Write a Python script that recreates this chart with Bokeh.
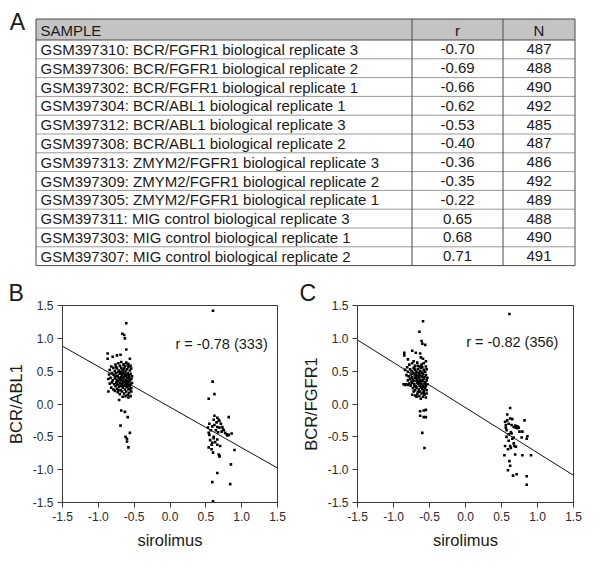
from bokeh.plotting import figure
from bokeh.layouts import column, row
from bokeh.models import Range1d, FixedTicker, NumeralTickFormatter, ColumnDataSource
from bokeh.core.properties import value
from bokeh.embed import file_html
from bokeh.resources import INLINE

FONT = "Liberation Sans"

# ---------------- Table data (panel A) ----------------
samples = [
    "GSM397310: BCR/FGFR1 biological replicate 3",
    "GSM397306: BCR/FGFR1 biological replicate 2",
    "GSM397302: BCR/FGFR1 biological replicate 1",
    "GSM397304: BCR/ABL1 biological replicate 1",
    "GSM397312: BCR/ABL1 biological replicate 3",
    "GSM397308: BCR/ABL1 biological replicate 2",
    "GSM397313: ZMYM2/FGFR1 biological replicate 3",
    "GSM397309: ZMYM2/FGFR1 biological replicate 2",
    "GSM397305: ZMYM2/FGFR1 biological replicate 1",
    "GSM397311: MIG control biological replicate 3",
    "GSM397303: MIG control biological replicate 1",
    "GSM397307: MIG control biological replicate 2",
]
r_values = [-0.70, -0.69, -0.66, -0.62, -0.53, -0.40, -0.36, -0.35, -0.22, 0.65, 0.68, 0.71]
n_values = [487, 488, 490, 492, 485, 487, 486, 492, 489, 488, 490, 491]

# ---------------- Scatter data (panel B: BCR/ABL1 vs sirolimus) ----------------
b_left_outliers = [
    (-0.61, 1.23), (-0.665, 1.07), (-0.64, 1.05), (-0.63, 1.00), (-0.61, 0.83),
    (-0.87, 0.77), (-0.80, 0.72), (-0.74, 0.74), (-0.69, 0.75), (-0.56, 0.69), (-0.87, 0.69),
    (-0.71, 0.06), (-0.68, -0.10), (-0.63, -0.12), (-0.59, -0.20), (-0.69, -0.33),
    (-0.56, -0.44), (-0.62, -0.50), (-0.60, -0.53), (-0.60, -0.57), (-0.58, -0.66),
]
b_left_core = [
    (-0.72, 0.62), (-0.68, 0.64), (-0.65, 0.60), (-0.61, 0.63), (-0.58, 0.61), (-0.76, 0.60),
    (-0.70, 0.58), (-0.63, 0.57), (-0.55, 0.58), (-0.82, 0.57),
    (-0.84, 0.52), (-0.79, 0.55), (-0.74, 0.54), (-0.71, 0.51), (-0.68, 0.55), (-0.66, 0.52),
    (-0.64, 0.54), (-0.62, 0.50), (-0.60, 0.53), (-0.58, 0.56), (-0.56, 0.51), (-0.54, 0.54),
    (-0.77, 0.50), (-0.69, 0.49), (-0.65, 0.48),
    (-0.85, 0.45), (-0.81, 0.47), (-0.78, 0.44), (-0.75, 0.47), (-0.73, 0.43), (-0.70, 0.46),
    (-0.67, 0.44), (-0.63, 0.46), (-0.61, 0.43), (-0.59, 0.47), (-0.57, 0.44), (-0.55, 0.46),
    (-0.53, 0.42), (-0.72, 0.49), (-0.64, 0.41), (-0.60, 0.40),
    (-0.86, 0.38), (-0.83, 0.40), (-0.80, 0.36), (-0.77, 0.39), (-0.74, 0.37), (-0.71, 0.40),
    (-0.69, 0.36), (-0.66, 0.39), (-0.62, 0.37), (-0.58, 0.39), (-0.56, 0.36), (-0.54, 0.38),
    (-0.76, 0.42), (-0.68, 0.41), (-0.65, 0.35), (-0.60, 0.35), (-0.57, 0.41),
    (-0.84, 0.31), (-0.81, 0.33), (-0.78, 0.30), (-0.75, 0.33), (-0.72, 0.29), (-0.70, 0.32),
    (-0.67, 0.30), (-0.64, 0.33), (-0.62, 0.29), (-0.59, 0.31), (-0.57, 0.34), (-0.55, 0.30),
    (-0.53, 0.32), (-0.73, 0.35), (-0.66, 0.34), (-0.61, 0.32), (-0.58, 0.28),
    (-0.82, 0.25), (-0.79, 0.22), (-0.76, 0.27), (-0.74, 0.23), (-0.71, 0.26), (-0.69, 0.21),
    (-0.66, 0.25), (-0.63, 0.22), (-0.60, 0.26), (-0.58, 0.23), (-0.56, 0.27), (-0.54, 0.24),
    (-0.68, 0.28), (-0.62, 0.27), (-0.77, 0.20),
    (-0.86, 0.19), (-0.73, 0.18), (-0.70, 0.15), (-0.67, 0.19), (-0.64, 0.16), (-0.61, 0.19),
    (-0.59, 0.14), (-0.57, 0.17), (-0.55, 0.12), (-0.54, 0.19), (-0.62, 0.12), (-0.66, 0.11),
    (-0.58, 0.10),
    (-0.63, 0.44), (-0.65, 0.28), (-0.70, 0.38), (-0.60, 0.45), (-0.67, 0.47), (-0.74, 0.31),
    (-0.56, 0.22), (-0.79, 0.45), (-0.72, 0.21), (-0.64, 0.60), (-0.59, 0.59), (-0.75, 0.56),
]
b_right_cluster = [
    (0.60, 1.42), (0.595, 0.34), (0.62, 0.15), (0.54, 0.08), (0.62, -0.18), (0.66, -0.21),
    (0.68, -0.24), (0.61, -0.24), (0.69, -0.26), (0.71, -0.30), (0.73, -0.35), (0.69, -0.36),
    (0.66, -0.35), (0.62, -0.32), (0.59, -0.34), (0.55, -0.30), (0.53, -0.36), (0.75, -0.40),
    (0.77, -0.44), (0.82, -0.20), (0.82, -0.47), (0.86, -0.45), (0.79, -0.46), (0.54, -0.44),
    (0.55, -0.47), (0.61, -0.52), (0.66, -0.54), (0.59, -0.59), (0.63, -0.58), (0.66, -0.62),
    (0.54, -0.66), (0.58, -0.69), (0.60, -0.74), (0.68, -0.77), (0.69, -0.79), (0.90, -0.70),
    (0.85, -0.92), (0.66, -1.05), (0.59, -1.19), (0.84, -1.22), (0.60, -1.48),
    (0.57, -0.40), (0.64, -0.40), (0.72, -0.42), (0.67, -0.43), (0.61, -0.50), (0.70, -0.64),
    (0.56, -0.55), (0.65, -0.28), (0.74, -0.38), (0.80, -0.48), (0.58, -0.62), (0.69, -0.80),
]
b_fit_x = [-1.5, 1.5]
b_fit_y = [0.88, -0.975]
b_note = "r = -0.78 (333)"

# ---------------- Scatter data (panel C: BCR/FGFR1 vs sirolimus) ----------------
c_left_outliers = [
    (-0.59, 1.26), (-0.64, 1.10), (-0.61, 0.96), (-0.60, 0.92), (-0.56, 0.90), (-0.74, 0.81),
    (-0.69, 0.78), (-0.63, 0.77), (-0.85, 0.78), (-0.85, 0.74), (-0.62, 0.71), (-0.59, 0.69),
    (-0.72, 0.65), (-0.55, 0.65), (-0.80, 0.68),
    (-0.58, -0.10), (-0.63, -0.11), (-0.55, -0.09), (-0.63, -0.18), (-0.58, -0.20),
    (-0.55, -0.20), (-0.60, -0.44), (-0.57, -0.67),
]
c_left_core = [
    (-0.78, 0.60), (-0.74, 0.62), (-0.70, 0.58), (-0.67, 0.63), (-0.64, 0.57), (-0.61, 0.60),
    (-0.58, 0.62), (-0.55, 0.57), (-0.81, 0.56), (-0.72, 0.55), (-0.62, 0.55),
    (-0.84, 0.52), (-0.80, 0.49), (-0.77, 0.53), (-0.75, 0.50), (-0.73, 0.48), (-0.70, 0.52),
    (-0.68, 0.49), (-0.66, 0.53), (-0.63, 0.50), (-0.60, 0.48), (-0.58, 0.52), (-0.56, 0.49),
    (-0.54, 0.53), (-0.65, 0.47), (-0.71, 0.54),
    (-0.82, 0.44), (-0.79, 0.42), (-0.76, 0.45), (-0.74, 0.41), (-0.72, 0.46), (-0.69, 0.43),
    (-0.67, 0.40), (-0.64, 0.45), (-0.62, 0.42), (-0.59, 0.46), (-0.57, 0.41), (-0.55, 0.44),
    (-0.53, 0.40), (-0.70, 0.40), (-0.61, 0.47), (-0.66, 0.43),
    (-0.80, 0.36), (-0.77, 0.38), (-0.75, 0.34), (-0.73, 0.37), (-0.71, 0.35), (-0.68, 0.38),
    (-0.65, 0.34), (-0.63, 0.37), (-0.60, 0.35), (-0.58, 0.39), (-0.56, 0.33), (-0.54, 0.36),
    (-0.62, 0.33), (-0.67, 0.36), (-0.59, 0.37),
    (-0.86, 0.30), (-0.84, 0.29), (-0.82, 0.30), (-0.80, 0.29), (-0.78, 0.31), (-0.76, 0.28),
    (-0.74, 0.32), (-0.71, 0.30), (-0.69, 0.27), (-0.66, 0.31), (-0.64, 0.28), (-0.61, 0.30),
    (-0.59, 0.27), (-0.57, 0.31), (-0.55, 0.28), (-0.53, 0.30), (-0.67, 0.33), (-0.62, 0.26),
    (-0.73, 0.24), (-0.70, 0.21), (-0.68, 0.25), (-0.65, 0.22), (-0.63, 0.19), (-0.60, 0.23),
    (-0.58, 0.20), (-0.56, 0.24), (-0.54, 0.21), (-0.66, 0.18), (-0.61, 0.25), (-0.72, 0.19),
    (-0.74, 0.14), (-0.70, 0.13), (-0.67, 0.15), (-0.64, 0.12), (-0.61, 0.16), (-0.59, 0.11),
    (-0.57, 0.14), (-0.55, 0.10), (-0.54, 0.16), (-0.62, 0.08), (-0.58, 0.17), (-0.68, 0.11),
    (-0.65, 0.40), (-0.60, 0.42), (-0.63, 0.32), (-0.69, 0.46), (-0.57, 0.26), (-0.71, 0.27),
    (-0.60, 0.56), (-0.66, 0.58), (-0.75, 0.40),
]
c_right_cluster = [
    (0.61, 1.37), (0.62, -0.06), (0.58, -0.16), (0.62, -0.22), (0.65, -0.23), (0.67, -0.35),
    (0.70, -0.36), (0.72, -0.37), (0.82, -0.25), (0.55, -0.27), (0.56, -0.32), (0.57, -0.40),
    (0.60, -0.46), (0.64, -0.45), (0.65, -0.53), (0.67, -0.51), (0.79, -0.42), (0.78, -0.51),
    (0.86, -0.49), (0.85, -0.53), (0.55, -0.64), (0.59, -0.69), (0.63, -0.67), (0.67, -0.60),
    (0.69, -0.77), (0.79, -0.78), (0.91, -0.78), (0.54, -0.78), (0.61, -0.87), (0.59, -1.01),
    (0.62, -0.94), (0.66, -1.09), (0.71, -1.07), (0.85, -1.10), (0.85, -1.23),
    (0.58, -0.25), (0.60, -0.30), (0.64, -0.32), (0.69, -0.33), (0.72, -0.34), (0.74, -0.36),
    (0.57, -0.50), (0.60, -0.56), (0.62, -0.64), (0.68, -0.64), (0.70, -0.65), (0.75, -0.42),
    (0.56, -0.36), (0.63, -0.43),
]
c_fit_x = [-1.5, 1.5]
c_fit_y = [0.975, -1.086]
c_note = "r = -0.82 (356)"

axis_ticks = [-1.5, -1.0, -0.5, 0.0, 0.5, 1.0, 1.5]

TEXT = "#1a1a1a"
AXC = "#3a3a3a"

# ---------------- Panel A: table ----------------
PAGE_W = 600
TAB_H = 275
t = figure(width=PAGE_W, height=TAB_H, x_range=Range1d(0, PAGE_W), y_range=Range1d(TAB_H, 0),
           output_backend="svg", toolbar_location=None, min_border=0)
t.axis.visible = False
t.grid.visible = False
t.outline_line_color = None

tab_left, tab_right, tab_top, head_bot = 35.5, 574.5, 18.5, 39.5
col_r, col_n = 411.5, 502.5
row_h = 18.8
n_rows = len(samples)
tab_bot = head_bot + row_h * n_rows

t.quad(left=[tab_left], right=[tab_right], top=[tab_top], bottom=[head_bot],
       fill_color="#c4c4c4", line_color=None)
row_lines_y = [head_bot + row_h * (k + 1) for k in range(n_rows - 1)]
t.segment(x0=[tab_left] * len(row_lines_y), x1=[tab_right] * len(row_lines_y),
          y0=row_lines_y, y1=row_lines_y, line_color="#9a9a9a", line_width=1)
t.segment(x0=[tab_left], x1=[tab_right], y0=[head_bot], y1=[head_bot], line_color="#4a4a4a", line_width=1)
t.segment(x0=[col_r, col_n], x1=[col_r, col_n], y0=[tab_top, tab_top], y1=[tab_bot, tab_bot],
          line_color="#4a4a4a", line_width=1)
t.quad(left=[tab_left], right=[tab_right], top=[tab_top], bottom=[tab_bot],
       fill_color=None, line_color="#4a4a4a", line_width=1)

row_centers = [head_bot + row_h * (k + 0.5) for k in range(n_rows)]
tsrc = ColumnDataSource(dict(
    y=row_centers,
    sample=samples,
    r=["%.2f" % v for v in r_values],
    n=[str(v) for v in n_values],
    xs=[40] * n_rows,
    xr=[(col_r + col_n) / 2] * n_rows,
    xn=[(col_n + tab_right) / 2] * n_rows,
))
common = dict(text_font=value(FONT), text_font_size="15px", text_color=TEXT, text_baseline="middle")
t.text(x="xs", y="y", text="sample", source=tsrc, text_align="left", **common)
t.text(x="xr", y="y", text="r", source=tsrc, text_align="center", **common)
t.text(x="xn", y="y", text="n", source=tsrc, text_align="center", **common)
head_y = (tab_top + head_bot) / 2 + 1
t.text(x=[40], y=[head_y], text=["SAMPLE"], text_align="left", **common)
t.text(x=[(col_r + col_n) / 2], y=[head_y], text=["r"], text_align="center", **common)
t.text(x=[(col_n + tab_right) / 2], y=[head_y], text=["N"], text_align="center", **common)
t.text(x=[17], y=[21], text=["A"], text_align="center", text_baseline="middle",
       text_font=value(FONT), text_font_size="23px", text_color=TEXT)


# ---------------- Panels B and C ----------------
def scatter_panel(letter, ylabel, left, core, right, fit_x, fit_y, note, note_x, note_y,
                  width, bl, br, bt, bb, letter_dx):
    p = figure(width=width, height=302, x_range=Range1d(-1.5, 1.5), y_range=Range1d(-1.5, 1.5),
               output_backend="svg", toolbar_location=None,
               min_border_left=bl, min_border_right=br, min_border_top=bt, min_border_bottom=bb)
    p.grid.visible = False
    p.outline_line_color = AXC
    p.outline_line_width = 1
    for ax in (p.xaxis[0], p.yaxis[0]):
        ax.ticker = FixedTicker(ticks=axis_ticks)
        ax.formatter = NumeralTickFormatter(format="0.0")
        ax.minor_tick_line_color = None
        ax.major_tick_in = 0
        ax.major_tick_out = 5
        ax.axis_line_color = AXC
        ax.major_tick_line_color = AXC
        ax.major_label_text_font = FONT
        ax.major_label_text_font_size = "12px"
        ax.major_label_text_color = "#2a2a2a"
        ax.axis_label_text_font = FONT
        ax.axis_label_text_font_size = "16.5px"
        ax.axis_label_text_font_style = "normal"
        ax.axis_label_text_color = TEXT
        ax.major_label_standoff = 4
    p.xaxis.axis_label = "sirolimus"
    p.xaxis.axis_label_standoff = 7
    p.yaxis.axis_label = ylabel
    p.yaxis.axis_label_standoff = 5

    p.title.text = letter
    p.title_location = "above"
    p.title.align = "left"
    p.title.offset = letter_dx
    p.title.standoff = 0
    p.title.text_font = FONT
    p.title.text_font_size = "23px"
    p.title.text_font_style = "normal"
    p.title.text_color = TEXT

    pts = left + core + right
    p.scatter([q[0] for q in pts], [q[1] for q in pts], marker="square", size=2.6,
              fill_color="black", line_color="black", line_width=0)
    p.line(fit_x, fit_y, line_color="#111111", line_width=1)
    p.text(x=[note_x], y=[note_y], text=[note], text_align="center", text_baseline="middle",
           text_font=value(FONT), text_font_size="14.5px", text_color=TEXT)
    return p


pB = scatter_panel("B", "BCR/ABL1", b_left_outliers, b_left_core, b_right_cluster,
                   b_fit_x, b_fit_y, b_note, 0.72, 0.92, 294, 62, 17, 28, 75, -54)
pC = scatter_panel("C", "BCR/FGFR1", c_left_outliers, c_left_core, c_right_cluster,
                   c_fit_x, c_fit_y, c_note, 0.65, 0.94, 306, 63, 27, 30, 75, -58)

layout = column(t, row(pB, pC, spacing=0), spacing=0)
open("out.html", "w").write(file_html(layout, INLINE))
